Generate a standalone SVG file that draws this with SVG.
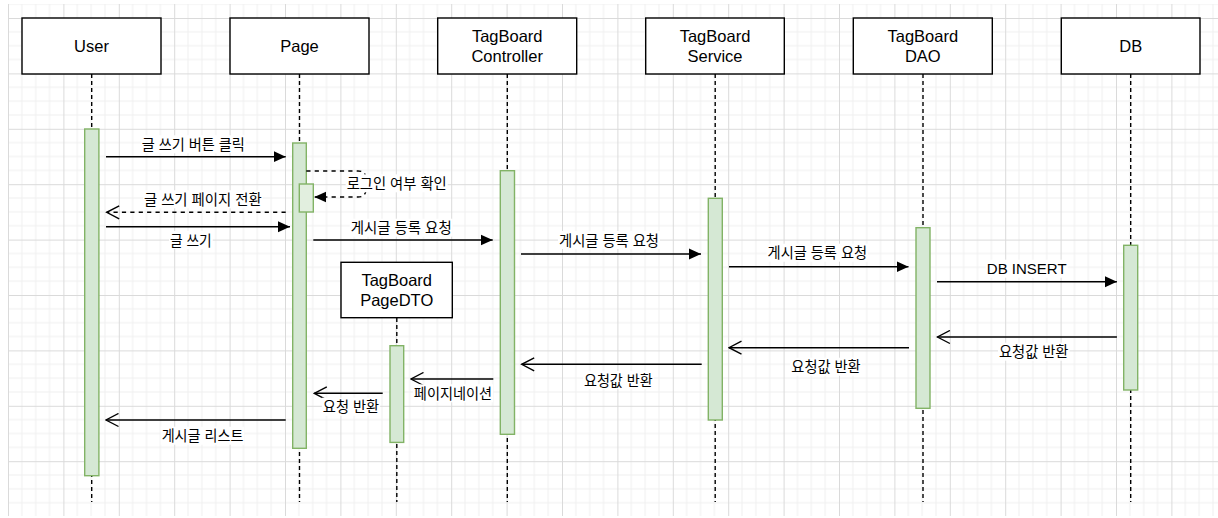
<svg xmlns="http://www.w3.org/2000/svg" width="1218" height="518" viewBox="0 0 1218 518">
<style>
.box{fill:#fff;stroke:#000;stroke-width:1.4}
.nt{font-family:"Liberation Sans","Noto Sans CJK KR",sans-serif;font-size:16.5px;fill:#000;text-anchor:middle}
.life{stroke:#000;stroke-width:1.4;stroke-dasharray:4 3;fill:none}
.act{fill:#d5e8d4;stroke:#82b366;stroke-width:1.4}
.msg{stroke:#000;stroke-width:1.4;fill:none}
.dash{stroke-dasharray:4.2 4.2}
.lb{font-family:"Liberation Sans","Noto Sans CJK KR",sans-serif;font-size:15px;fill:#000;text-anchor:middle}
.lbg{fill:#fff}
</style>
<defs>
<pattern id="grid" x="8" y="18" width="55.4" height="55.4" patternUnits="userSpaceOnUse">
<path d="M13.85,0V55.4M27.7,0V55.4M41.55,0V55.4M0,13.85H55.4M0,27.7H55.4M0,41.55H55.4" stroke="#efefef" stroke-width="1" fill="none"/>
<path d="M0.5,0V55.4M0,0.5H55.4" stroke="#dadada" stroke-width="1" fill="none"/>
</pattern>
<marker id="blk" markerWidth="13" markerHeight="12" refX="12" refY="6" orient="auto" markerUnits="userSpaceOnUse">
<path d="M0,0.5L12,6L0,11.5Z" fill="#000"/>
</marker>
<marker id="opn" markerWidth="15" markerHeight="15" refX="13.5" refY="7.5" orient="auto" markerUnits="userSpaceOnUse">
<path d="M1,1L13.5,7.5L1,14" fill="none" stroke="#000" stroke-width="1.4"/>
</marker>
</defs>
<rect x="0" y="0" width="1218" height="518" fill="#fff"/>
<rect x="8" y="4" width="1210" height="512" fill="url(#grid)"/>

<g id="lifelines">
<line class="life" x1="91.7" y1="74" x2="91.7" y2="502"/>
<line class="life" x1="299.5" y1="74" x2="299.5" y2="502"/>
<line class="life" x1="507.3" y1="74" x2="507.3" y2="502"/>
<line class="life" x1="715.2" y1="74" x2="715.2" y2="502"/>
<line class="life" x1="923" y1="74" x2="923" y2="502"/>
<line class="life" x1="1130.7" y1="74" x2="1130.7" y2="502"/>
<line class="life" x1="396.8" y1="318" x2="396.8" y2="502"/>
</g>

<g id="user">
<rect class="box" x="22" y="18" width="139" height="56"/>
<text class="nt" x="91.5" y="52">User</text>
<rect class="act" x="84.7" y="129" width="14.2" height="346.7"/>
</g>
<g id="page">
<rect class="box" x="230" y="18" width="139" height="56"/>
<text class="nt" x="299.5" y="52">Page</text>
<rect class="act" x="292.7" y="143" width="13.6" height="305.3"/>
<rect x="299.3" y="184" width="14" height="28" fill="#e2efdf" stroke="#82b366" stroke-width="1.4"/>
</g>
<g id="controller">
<rect class="box" x="437.7" y="18" width="139" height="56"/>
<text class="nt" x="507.2" y="41.5">TagBoard</text>
<text class="nt" x="507.2" y="61.5">Controller</text>
<rect class="act" x="500.3" y="170.7" width="14.2" height="263.6"/>
</g>
<g id="service">
<rect class="box" x="645.7" y="18" width="138.6" height="56"/>
<text class="nt" x="715" y="41.5">TagBoard</text>
<text class="nt" x="715" y="61.5">Service</text>
<rect class="act" x="708.3" y="198.3" width="14" height="221.7"/>
</g>
<g id="dao">
<rect class="box" x="853.3" y="18" width="139" height="56"/>
<text class="nt" x="922.8" y="41.5">TagBoard</text>
<text class="nt" x="922.8" y="61.5">DAO</text>
<rect class="act" x="916" y="227.7" width="14" height="180.6"/>
</g>
<g id="db">
<rect class="box" x="1061.3" y="18" width="138.7" height="56"/>
<text class="nt" x="1130.7" y="52">DB</text>
<rect class="act" x="1123.7" y="245.3" width="14" height="144.7"/>
</g>
<g id="pagedto">
<rect class="box" x="341" y="262.3" width="111.3" height="55.4"/>
<text class="nt" x="396.7" y="285.5">TagBoard</text>
<text class="nt" x="396.7" y="305.5">PageDTO</text>
<rect class="act" x="390" y="345.7" width="13.7" height="96.7"/>
</g>

<g id="connectors">
<path class="msg" d="M106,156.7H285.7" marker-end="url(#blk)"/>
<path class="msg dash" d="M306.3,171H358Q366,171 366,179V189Q366,197 358,197H314.3" marker-end="url(#blk)"/>
<path class="msg dash" d="M285.7,212.3H106.7" marker-end="url(#opn)"/>
<path class="msg" d="M106,226.7H290" marker-end="url(#blk)"/>
<path class="msg" d="M313.3,240H492.7" marker-end="url(#blk)"/>
<path class="msg" d="M521,254H701" marker-end="url(#blk)"/>
<path class="msg" d="M729,266.7H908.5" marker-end="url(#blk)"/>
<path class="msg" d="M937,281.7H1116.9" marker-end="url(#blk)"/>
<path class="msg" d="M1116.9,337H937.4" marker-end="url(#opn)"/>
<path class="msg" d="M909,347.7H729" marker-end="url(#opn)"/>
<path class="msg" d="M701.7,364.3H521.7" marker-end="url(#opn)"/>
<path class="msg" d="M493.3,379H411" marker-end="url(#opn)"/>
<path class="msg" d="M382.7,393.3H314.3" marker-end="url(#opn)"/>
<path class="msg" d="M285.7,420H106" marker-end="url(#opn)"/>

<rect class="lbg" x="140.8" y="135.3" width="105" height="18"/>
<text class="lb" x="193.3" y="149.8" textLength="103" lengthAdjust="spacingAndGlyphs">글 쓰기 버튼 클릭</text>
<rect class="lbg" x="345.7" y="174.3" width="102" height="18"/>
<text class="lb" x="396.7" y="188.8" textLength="100" lengthAdjust="spacingAndGlyphs">로그인 여부 확인</text>
<rect class="lbg" x="143" y="190.3" width="119.7" height="18"/>
<text class="lb" x="202.8" y="204.8" textLength="117.7" lengthAdjust="spacingAndGlyphs">글 쓰기 페이지 전환</text>
<rect class="lbg" x="169" y="231" width="43.7" height="18"/>
<text class="lb" x="190.8" y="245.5" textLength="41.7" lengthAdjust="spacingAndGlyphs">글 쓰기</text>
<rect class="lbg" x="349.7" y="218.7" width="103" height="18"/>
<text class="lb" x="401.2" y="233.2" textLength="101" lengthAdjust="spacingAndGlyphs">게시글 등록 요청</text>
<rect class="lbg" x="558" y="231" width="102" height="18"/>
<text class="lb" x="609" y="245.5" textLength="100" lengthAdjust="spacingAndGlyphs">게시글 등록 요청</text>
<rect class="lbg" x="766.5" y="243.7" width="101.5" height="18"/>
<text class="lb" x="817.3" y="258.2" textLength="99.5" lengthAdjust="spacingAndGlyphs">게시글 등록 요청</text>
<rect class="lbg" x="985.7" y="259.7" width="82" height="18"/>
<text class="lb" x="1026.7" y="274.2">DB INSERT</text>
<rect class="lbg" x="998" y="342.7" width="71.5" height="18"/>
<text class="lb" x="1033.7" y="357.2" textLength="69.5" lengthAdjust="spacingAndGlyphs">요청값 반환</text>
<rect class="lbg" x="790.3" y="357.7" width="71.3" height="18"/>
<text class="lb" x="826" y="372.2" textLength="69.3" lengthAdjust="spacingAndGlyphs">요청값 반환</text>
<rect class="lbg" x="583" y="371" width="70.7" height="18"/>
<text class="lb" x="618.3" y="385.5" textLength="68.7" lengthAdjust="spacingAndGlyphs">요청값 반환</text>
<rect class="lbg" x="412.8" y="384.3" width="80.3" height="18"/>
<text class="lb" x="453" y="398.8" textLength="78.3" lengthAdjust="spacingAndGlyphs">페이지네이션</text>
<rect class="lbg" x="321.8" y="397.7" width="58.3" height="18"/>
<text class="lb" x="351" y="412.2" textLength="56.3" lengthAdjust="spacingAndGlyphs">요청 반환</text>
<rect class="lbg" x="160.6" y="426.7" width="83.7" height="18"/>
<text class="lb" x="202.5" y="441.2" textLength="81.7" lengthAdjust="spacingAndGlyphs">게시글 리스트</text>
</g>
</svg>
